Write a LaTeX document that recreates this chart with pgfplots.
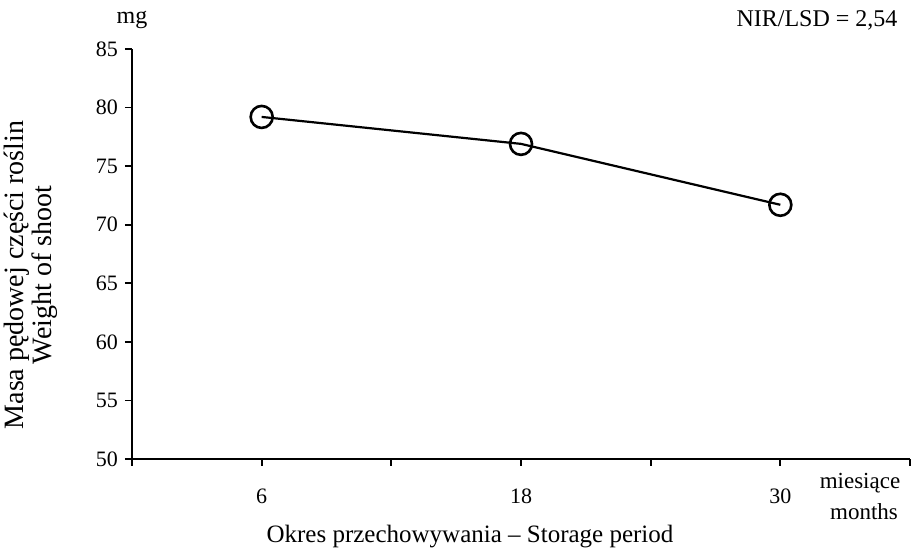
\documentclass[border=0pt]{standalone}
\usepackage{pgfplots}
\pgfplotsset{compat=1.18}
\usepackage{fontspec}
\setmainfont{Liberation Serif}
\begin{document}
\begin{tikzpicture}[x=1pt,y=1pt]
\useasboundingbox (0,0) rectangle (456,274.5);
\begin{axis}[
  at={(66pt,45pt)}, anchor=south west,
  scale only axis, width=389pt, height=205pt,
  xmin=0, xmax=36, ymin=50, ymax=85,
  axis lines=left, axis line style={-, line width=1pt},
  xtick={0,6,...,36}, xticklabels={,6,,18,,30,},
  ytick={50,55,...,85},
  tick align=outside, major tick length=3.5pt,
  tick style={black, line width=0.9pt},
  xticklabel style={yshift=-8pt},
  /pgf/number format/assume math mode=true,
  ticklabel style={font=\fontsize{11}{12}\selectfont},
  clip=false,
]
\addplot[black, line width=1.1pt, mark=o, mark size=5.5pt, mark options={line width=1.3pt, fill=white}]
  coordinates {(6,79.2) (18,76.9) (30,71.7)};
\end{axis}
\node[font=\fontsize{12}{12}\selectfont] at (66,264.5) {mg};
\node[font=\fontsize{12}{12}\selectfont] at (408.5,264.5) {NIR/LSD = 2,54};
\node[font=\fontsize{12.5}{12}\selectfont] at (235,6) {Okres przechowywania – Storage period};
\node[font=\fontsize{11.5}{12}\selectfont] at (430,33) {miesiące};
\node[font=\fontsize{11.5}{12}\selectfont] at (432,18.5) {months};
\node[font=\fontsize{14}{14}\selectfont, rotate=90, align=center] at (15.5,137) {Masa pędowej części roślin\\Weight of shoot};
\end{tikzpicture}
\end{document}
